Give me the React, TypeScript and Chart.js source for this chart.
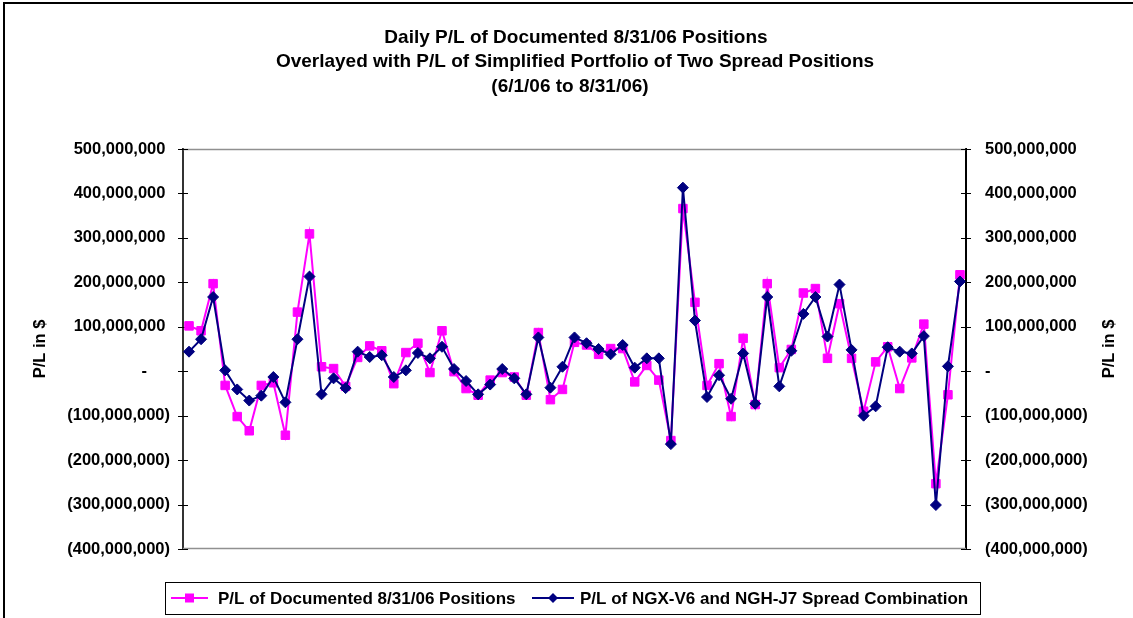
import React, { useEffect, useRef } from 'react';
import { Chart, registerables } from 'chart.js';

Chart.register(...registerables);

// Trading days 6/1/06 – 8/31/06
const days: string[] = [
  '6/1', '6/2', '6/5', '6/6', '6/7', '6/8', '6/9', '6/12', '6/13', '6/14', '6/15', '6/16',
  '6/19', '6/20', '6/21', '6/22', '6/23', '6/26', '6/27', '6/28', '6/29', '6/30',
  '7/3', '7/5', '7/6', '7/7', '7/10', '7/11', '7/12', '7/13', '7/14', '7/17', '7/18',
  '7/19', '7/20', '7/21', '7/24', '7/25', '7/26', '7/27', '7/28', '7/31',
  '8/1', '8/2', '8/3', '8/4', '8/7', '8/8', '8/9', '8/10', '8/11', '8/14', '8/15', '8/16',
  '8/17', '8/18', '8/21', '8/22', '8/23', '8/24', '8/25', '8/28', '8/29', '8/30', '8/31',
];

// P/L in millions of $
const documentedPL: number[] = [
  102, 91, 197, -32, -102, -134, -32, -26, -144, 133, 309, 10, 6, -34, 31, 57, 46, -28, 42, 63, -3, 91,
  -1, -39, -54, -20, -3, -13, -54, 87, -64, -41, 65, 59, 38, 51, 51, -24, 13, -20, -156, 366,
  155, -32, 17, -102, 74, -75, 197, 8, 49, 176, 186, 29, 152, 29, -90, 21, 55, -39, 30, 106, -253, -53, 217,
];

const spreadPL: number[] = [
  44, 72, 167, 2, -41, -66, -55, -13, -70, 72, 213, -52, -16, -38, 44, 32, 36, -13, 2, 41, 29, 55,
  5, -22, -52, -30, 5, -16, -52, 76, -37, 10, 76, 63, 50, 38, 59, 8, 29, 29, -164, 413,
  114, -58, -9, -62, 40, -73, 167, -34, 46, 129, 167, 78, 195, 48, -100, -79, 54, 44, 40, 79, -301, 11, 202,
];

const titleLines: string[] = [
  'Daily P/L of Documented 8/31/06 Positions',
  'Overlayed with P/L of Simplified Portfolio of Two Spread Positions',
  '(6/1/06 to 8/31/06)',
];
const seriesNames: string[] = [
  'P/L of Documented 8/31/06 Positions',
  'P/L of NGX-V6 and NGH-J7 Spread Combination',
];
const axisTitle = 'P/L in $';
const yMin = -400000000;
const yMax = 500000000;
const yStep = 100000000;

const FONT = '"Liberation Sans", Arial, Helvetica, sans-serif';
const PINK = '#FF00FF';
const NAVY = '#000080';

function fmt(v: number): string {
  if (v === 0) return '-     ';
  const s = Math.abs(v).toLocaleString('en-US');
  return v < 0 ? '(' + s + ')' : s + ' ';
}

const decor = {
  id: 'decor',
  beforeDraw(chart: any) {
    const ctx = chart.ctx;
    ctx.save();
    ctx.fillStyle = '#fff';
    ctx.fillRect(0, 0, chart.width, chart.height);
    ctx.restore();
  },
  beforeDatasetsDraw(chart: any) {
    const ctx = chart.ctx;
    const { left, right, top, bottom } = chart.chartArea;
    ctx.save();
    ctx.strokeStyle = '#909090';
    ctx.lineWidth = 1.5;
    ctx.beginPath();
    ctx.moveTo(left, top + 0.5);
    ctx.lineTo(right, top + 0.5);
    ctx.moveTo(left, bottom - 0.5);
    ctx.lineTo(right, bottom - 0.5);
    ctx.stroke();
    // crossing tick marks
    const ys = chart.scales.y;
    ctx.lineWidth = 1;
    ctx.strokeStyle = '#000';
    ctx.beginPath();
    for (let v = yMin; v <= yMax; v += yStep) {
      const py = Math.round(ys.getPixelForValue(v)) + 0.5;
      ctx.moveTo(left - 5, py);
      ctx.lineTo(left + 5, py);
      ctx.moveTo(right - 5, py);
      ctx.lineTo(right + 5, py);
    }
    ctx.stroke();
    ctx.restore();
  },
  afterDraw(chart: any) {
    const ctx = chart.ctx;
    ctx.save();
    // outer frame
    ctx.strokeStyle = '#000';
    ctx.lineWidth = 2;
    ctx.beginPath();
    ctx.moveTo(4, chart.height);
    ctx.lineTo(4, 3);
    ctx.lineTo(chart.width, 3);
    ctx.stroke();

    // title
    ctx.fillStyle = '#000';
    ctx.font = 'bold 19px ' + FONT;
    ctx.textAlign = 'center';
    ctx.textBaseline = 'middle';
    ctx.fillText(titleLines[0], 576, 38);
    ctx.fillText(titleLines[1], 575, 62);
    ctx.fillText(titleLines[2], 570, 87);

    // axis titles
    ctx.font = 'bold 16.5px ' + FONT;
    const midY = (chart.chartArea.top + chart.chartArea.bottom) / 2;
    ctx.save();
    ctx.translate(40, midY);
    ctx.rotate(-Math.PI / 2);
    ctx.fillText(axisTitle, 0, 0);
    ctx.restore();
    ctx.save();
    ctx.translate(1109, midY);
    ctx.rotate(-Math.PI / 2);
    ctx.fillText(axisTitle, 0, 0);
    ctx.restore();

    // legend
    const ly = 598;
    ctx.lineWidth = 1;
    ctx.strokeStyle = '#000';
    ctx.strokeRect(165.5, 582.5, 815, 32);
    ctx.lineWidth = 2;
    ctx.strokeStyle = PINK;
    ctx.beginPath();
    ctx.moveTo(171, ly);
    ctx.lineTo(208, ly);
    ctx.stroke();
    ctx.fillStyle = PINK;
    ctx.fillRect(185, ly - 4.5, 9, 9);
    ctx.strokeStyle = NAVY;
    ctx.beginPath();
    ctx.moveTo(532, ly);
    ctx.lineTo(574, ly);
    ctx.stroke();
    ctx.fillStyle = NAVY;
    ctx.beginPath();
    ctx.moveTo(553 - 5, ly);
    ctx.lineTo(553, ly - 5);
    ctx.lineTo(553 + 5, ly);
    ctx.lineTo(553, ly + 5);
    ctx.closePath();
    ctx.fill();
    ctx.fillStyle = '#000';
    ctx.textAlign = 'left';
    ctx.font = 'bold 17px ' + FONT;
    ctx.fillText(seriesNames[0], 218, ly + 1);
    ctx.fillText(seriesNames[1], 580, ly + 1);
    ctx.restore();
  },
};

export default function App() {
  const ref = useRef<HTMLCanvasElement | null>(null);
  useEffect(() => {
    if (!ref.current) return;
    const tickFont = { family: FONT, size: 16.5, weight: 'bold' as const };
    const chart = new Chart(ref.current, {
      type: 'line',
      data: {
        labels: days,
        datasets: [
          {
            label: seriesNames[0],
            data: documentedPL.map((v) => v * 1e6),
            borderColor: PINK,
            backgroundColor: PINK,
            borderWidth: 2,
            pointStyle: 'rect',
            pointRadius: 6,
            pointBorderWidth: 1,
            pointBorderColor: PINK,
            pointBackgroundColor: PINK,
            tension: 0,
            order: 2,
            yAxisID: 'y',
          },
          {
            label: seriesNames[1],
            data: spreadPL.map((v) => v * 1e6),
            borderColor: NAVY,
            backgroundColor: NAVY,
            borderWidth: 2,
            pointStyle: 'rectRot',
            pointRadius: 5.5,
            pointBorderWidth: 1,
            pointBorderColor: NAVY,
            pointBackgroundColor: NAVY,
            tension: 0,
            order: 1,
            yAxisID: 'y',
          },
        ],
      },
      options: {
        responsive: false,
        animation: false,
        events: [],
        layout: { padding: { left: 0, right: 0, top: 149, bottom: 69 } },
        plugins: {
          legend: { display: false },
          title: { display: false },
          tooltip: { enabled: false },
        },
        scales: {
          x: { type: 'category', display: false, offset: true },
          y: {
            position: 'left',
            min: yMin,
            max: yMax,
            ticks: { stepSize: yStep, callback: (v: any) => fmt(Number(v)), color: '#000', font: tickFont, padding: 13 },
            grid: { display: true, drawOnChartArea: false, drawTicks: false },
            border: { display: true, color: '#333', width: 2 },
            afterFit: (s: any) => { s.width = 183; },
          },
          y2: {
            position: 'right',
            min: yMin,
            max: yMax,
            ticks: { stepSize: yStep, callback: (v: any) => fmt(Number(v)), color: '#000', font: tickFont, padding: 19 },
            grid: { display: true, drawOnChartArea: false, drawTicks: false },
            border: { display: true, color: '#000', width: 2 },
            afterFit: (s: any) => { s.width = 167; },
          },
        },
      },
      plugins: [decor],
    });
    return () => chart.destroy();
  }, []);
  return (
    <div style={{ position: 'fixed', left: 0, top: 0, width: 1133, height: 618, background: '#fff' }}>
      <canvas ref={ref} width={1133} height={618} style={{ display: 'block' }} />
    </div>
  );
}
